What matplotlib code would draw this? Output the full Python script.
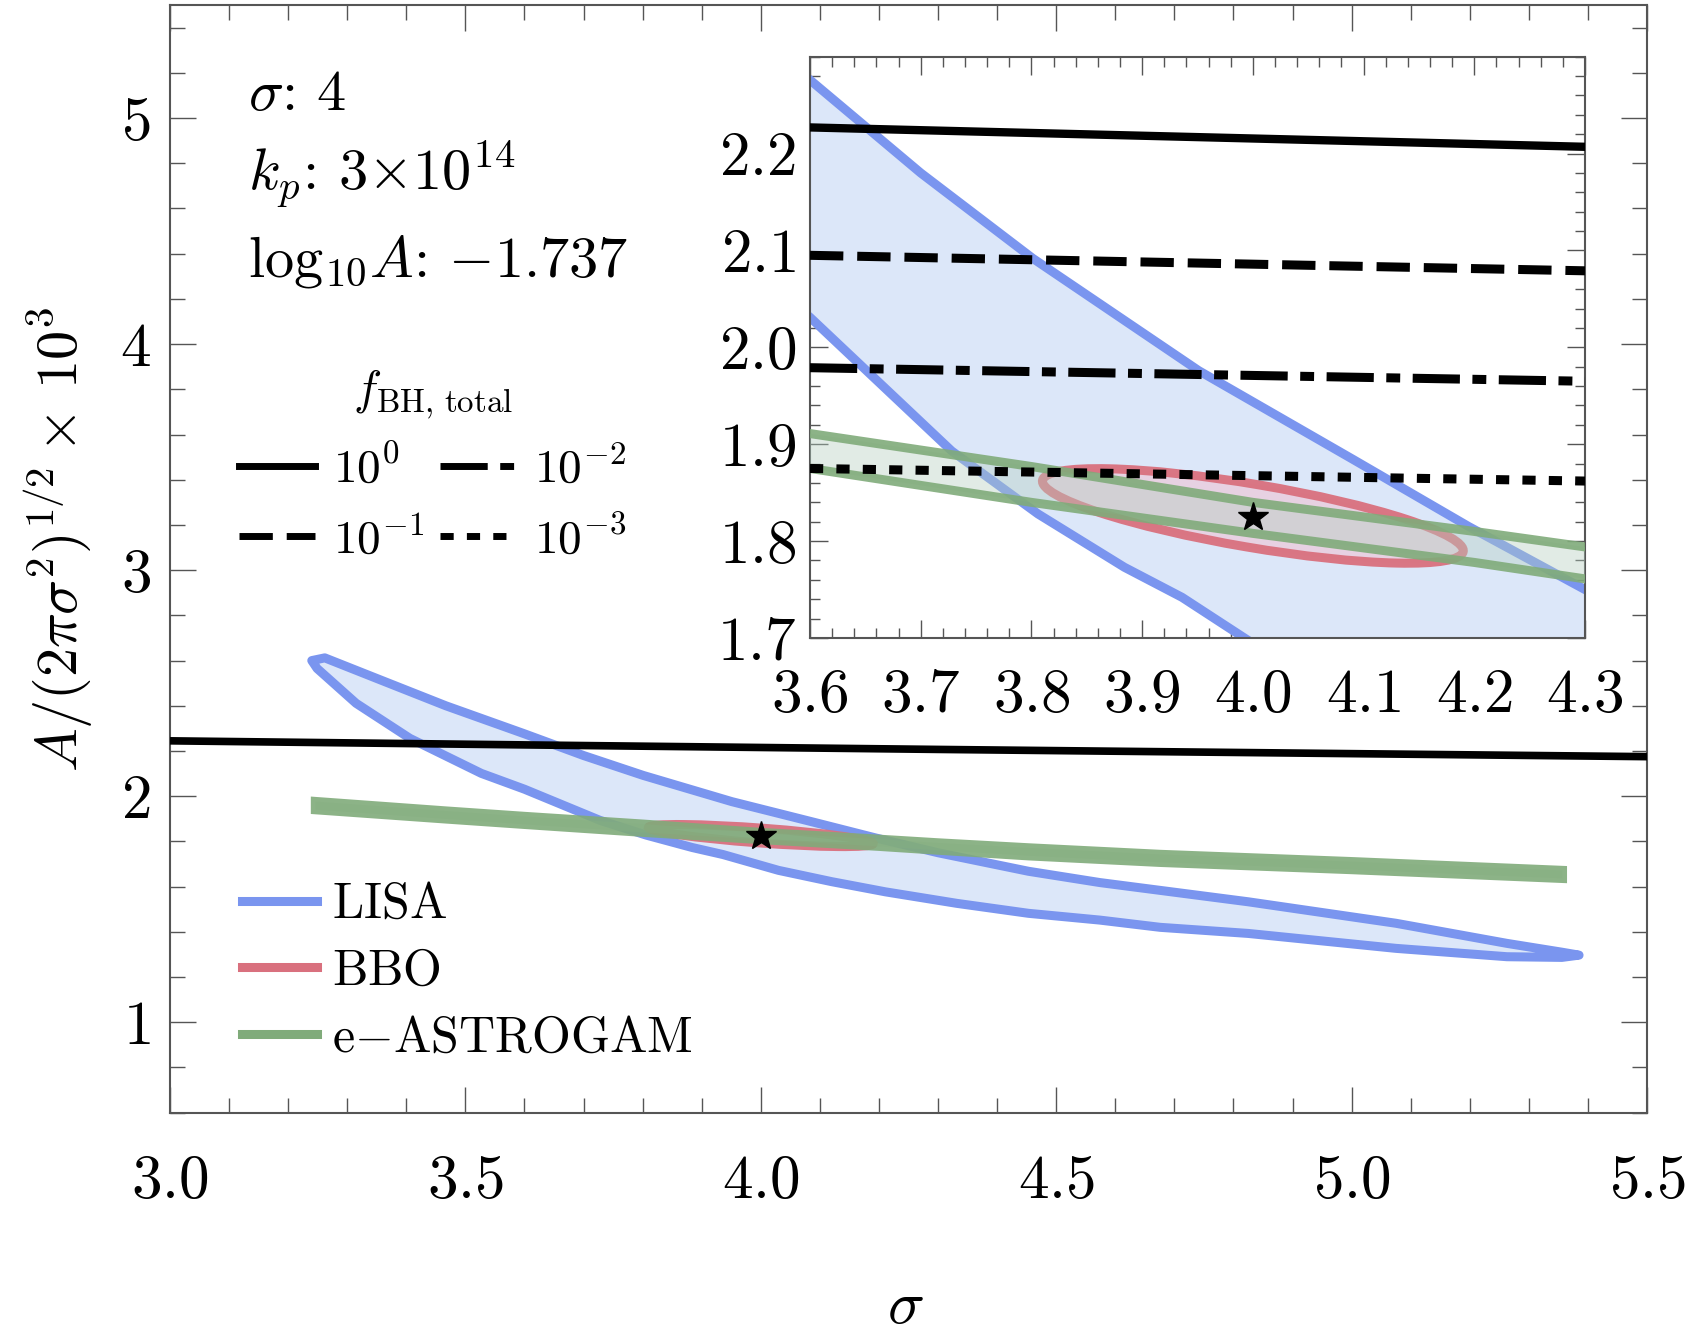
import matplotlib
matplotlib.use('Agg')
import matplotlib.pyplot as plt
from matplotlib.patches import Ellipse, Polygon
from matplotlib.lines import Line2D
from matplotlib.ticker import MultipleLocator, FuncFormatter
from matplotlib.colors import to_rgba

plt.rcParams['mathtext.fontset'] = 'cm'
plt.rcParams['font.family'] = 'serif'
plt.rcParams['font.serif'] = ['cmr10', 'DejaVu Serif']
plt.rcParams['axes.unicode_minus'] = False
plt.rcParams['lines.scale_dashes'] = False

# ---- data ----
# LISA contour: upper edge left->right, then lower edge right->left
lisa_x = [3.240, 3.262, 3.346, 3.467, 3.600, 3.700, 3.801, 3.951, 4.091, 4.195,
          4.300, 4.453, 4.574, 4.825, 5.075, 5.263, 5.356, 5.385,
          5.356, 5.263, 5.075, 4.825, 4.676, 4.574, 4.453, 4.332, 4.211, 4.120,
          4.030, 3.936, 3.884, 3.806, 3.728, 3.651, 3.600, 3.527, 3.406, 3.315, 3.249]
lisa_y = [2.600, 2.612, 2.525, 2.400, 2.276, 2.180, 2.092, 1.976, 1.884, 1.815,
          1.750, 1.668, 1.618, 1.533, 1.438, 1.349, 1.310, 1.297,
          1.287, 1.290, 1.327, 1.393, 1.420, 1.452, 1.482, 1.526, 1.577, 1.622,
          1.672, 1.742, 1.773, 1.828, 1.893, 1.976, 2.031, 2.101, 2.256, 2.411, 2.565]

# e-ASTROGAM band: upper edge left->right, lower edge right->left
astro_x = [3.246, 3.467, 3.6, 3.8, 4.0, 4.2, 4.3, 4.453, 4.676, 5.0, 5.357,
           5.357, 5.0, 4.676, 4.453, 4.3, 4.2, 4.0, 3.8, 3.6, 3.467, 3.246]
astro_y = [1.977, 1.935, 1.911, 1.877, 1.840, 1.810, 1.794, 1.772, 1.743, 1.711, 1.672,
           1.636, 1.675, 1.707, 1.736, 1.761, 1.778, 1.808, 1.840, 1.875, 1.899, 1.940]

# BBO ellipse: centre, full width/height, angle (data units)
bbo_center = (4.0, 1.826)
bbo_width = 0.387
bbo_height = 0.065
bbo_angle = -11.0

fiducial = (4.0, 1.825)

# f_BH,total lines
fbh_solid_x = [3.0, 3.6, 4.3, 5.5]
fbh_solid_y = [2.245, 2.227, 2.207, 2.175]
fbh_x = [3.6, 4.3]
fbh_m1_y = [2.095, 2.079]
fbh_m2_y = [1.979, 1.965]
fbh_m3_y = [1.875, 1.862]

fbh_labels = [r'$10^{0}$', r'$10^{-1}$', r'$10^{-2}$', r'$10^{-3}$']
det_labels = [r'$\mathrm{LISA}$', r'$\mathrm{BBO}$', r'$\mathrm{e{-}ASTROGAM}$']

lisa_edge = '#7a95ef'
lisa_fill = '#dce7f9'
bbo_edge = '#d9707e'
bbo_fill = '#f0c3d3'
green_edge = '#80ab7a'
green_fill = '#b4cfc0'

dash_styles = {
    'solid': None,
    'm1': (24, 10),
    'm2': (34, 9, 10, 9),
    'm3': (9.5, 9.5),
}

fig = plt.figure(figsize=(16.9, 13.32), dpi=100)
ax = fig.add_axes([170 / 1690, 1 - 1112.7 / 1332, 1477 / 1690, 1107.7 / 1332])
axi = fig.add_axes([810 / 1690, 1 - 638 / 1332, 775 / 1690, 581.3 / 1332])


def draw_contours(a, lw):
    a.add_patch(Polygon(list(zip(lisa_x, lisa_y)), closed=True, facecolor=lisa_fill,
                        edgecolor=lisa_edge, lw=lw, joinstyle='round', zorder=2))
    a.add_patch(Ellipse(bbo_center, bbo_width, bbo_height, angle=bbo_angle,
                        facecolor=to_rgba(bbo_fill, 0.6), edgecolor=to_rgba(bbo_edge, 0.95),
                        lw=lw, zorder=3))
    a.add_patch(Polygon(list(zip(astro_x, astro_y)), closed=True,
                        facecolor=to_rgba(green_fill, 0.4), edgecolor=to_rgba(green_edge, 0.9),
                        lw=lw, joinstyle='miter', zorder=4))


def style_axes(a, major_len, minor_len, xpad, ypad):
    for s in a.spines.values():
        s.set_color('#555555')
        s.set_linewidth(1.5)
    a.tick_params(which='both', direction='in', top=True, right=True,
                  color='#555555', width=1.0, labelsize=44)
    a.tick_params(which='major', length=major_len)
    a.tick_params(which='minor', length=minor_len)
    a.tick_params(axis='x', which='major', pad=xpad)
    a.tick_params(axis='y', which='major', pad=ypad)


# main panel
draw_contours(ax, 6.5)
ax.plot(fbh_solid_x, fbh_solid_y, color='k', lw=5.5, zorder=5, solid_capstyle='butt')
ax.plot(*fiducial, marker='*', color='k', ms=22, zorder=6)
ax.set_xlim(3.0, 5.5)
ax.set_ylim(0.6, 5.5)
ax.xaxis.set_major_locator(MultipleLocator(0.5))
ax.xaxis.set_minor_locator(MultipleLocator(0.1))
ax.yaxis.set_major_locator(MultipleLocator(1))
ax.yaxis.set_minor_locator(MultipleLocator(0.2))
ax.xaxis.set_major_formatter(FuncFormatter(lambda v, p: r'$%.1f$' % v))
ax.yaxis.set_major_formatter(FuncFormatter(lambda v, p: r'$%d$' % round(v)))
style_axes(ax, 19, 11, 30, 14)

# inset
draw_contours(axi, 6.5)
axi.plot(fbh_solid_x, fbh_solid_y, color='k', lw=6, zorder=5, solid_capstyle='butt')
axi.plot(fbh_x, fbh_m1_y, color='k', lw=6.5, dashes=dash_styles['m1'], zorder=5)
axi.plot(fbh_x, fbh_m2_y, color='k', lw=6.5, dashes=dash_styles['m2'], zorder=5)
axi.plot(fbh_x, fbh_m3_y, color='k', lw=6.5, dashes=dash_styles['m3'], zorder=5)
axi.plot(*fiducial, marker='*', color='k', ms=22, zorder=6)
axi.set_xlim(3.6, 4.3)
axi.set_ylim(1.7, 2.3)
axi.set_xticks([3.6, 3.7, 3.8, 3.9, 4.0, 4.1, 4.2, 4.3])
axi.set_yticks([1.7, 1.8, 1.9, 2.0, 2.1, 2.2])
axi.xaxis.set_minor_locator(MultipleLocator(0.02))
axi.yaxis.set_minor_locator(MultipleLocator(0.02))
axi.xaxis.set_major_formatter(FuncFormatter(lambda v, p: r'$%.1f$' % v))
axi.yaxis.set_major_formatter(FuncFormatter(lambda v, p: r'$%.1f$' % v))
style_axes(axi, 13, 7, 22, 10)

# axis labels
fig.text(59 / 1690, 1 - 539 / 1332, r'$A/(2\pi\sigma^2)^{1/2}\times\,10^3$',
         rotation=90, ha='center', va='center', fontsize=42)
fig.text(905 / 1690, 1 - 1307 / 1332, r'$\sigma$', ha='center', va='center', fontsize=44)

# parameter text
fig.text(248 / 1690, 1 - 110 / 1332, r'$\sigma$: $4$', fontsize=42, va='baseline')
fig.text(248 / 1690, 1 - 190 / 1332, r'$k_p$: $3{\times}10^{14}$', fontsize=42, va='baseline')
fig.text(248 / 1690, 1 - 276 / 1332, r'$\mathrm{log}_{10}A$: ${-}1.737$', fontsize=42,
         va='baseline')

# legends
fig.text(433 / 1690, 1 - 394.5 / 1332, r'$f_{\mathrm{BH,\,total}}$', fontsize=34,
         ha='center', va='center')
fbh_handles = [Line2D([], [], color='k', lw=5, dashes=d) if d else Line2D([], [], color='k', lw=5)
               for d in [None, dash_styles['m1'], dash_styles['m2'], dash_styles['m3']]]
leg1 = ax.legend(fbh_handles, fbh_labels, ncol=2,
                 loc='upper left', bbox_to_anchor=(239 / 1690, 1 - 445 / 1332),
                 bbox_transform=fig.transFigure, frameon=False, fontsize=34,
                 handlelength=1.6, handletextpad=0.4, columnspacing=0.32,
                 labelspacing=0.52, borderpad=0, borderaxespad=0)
ax.add_artist(leg1)

det_handles = [Line2D([], [], color=c, lw=6.5) for c in [lisa_edge, bbo_edge, green_edge]]
ax.legend(det_handles, det_labels, loc='center', bbox_to_anchor=(467 / 1690, 1 - 972 / 1332),
          bbox_transform=fig.transFigure, frameon=False, fontsize=36,
          handlelength=1.5, handletextpad=0.3, labelspacing=0.42)

fig.savefig('out.png', dpi=100)
